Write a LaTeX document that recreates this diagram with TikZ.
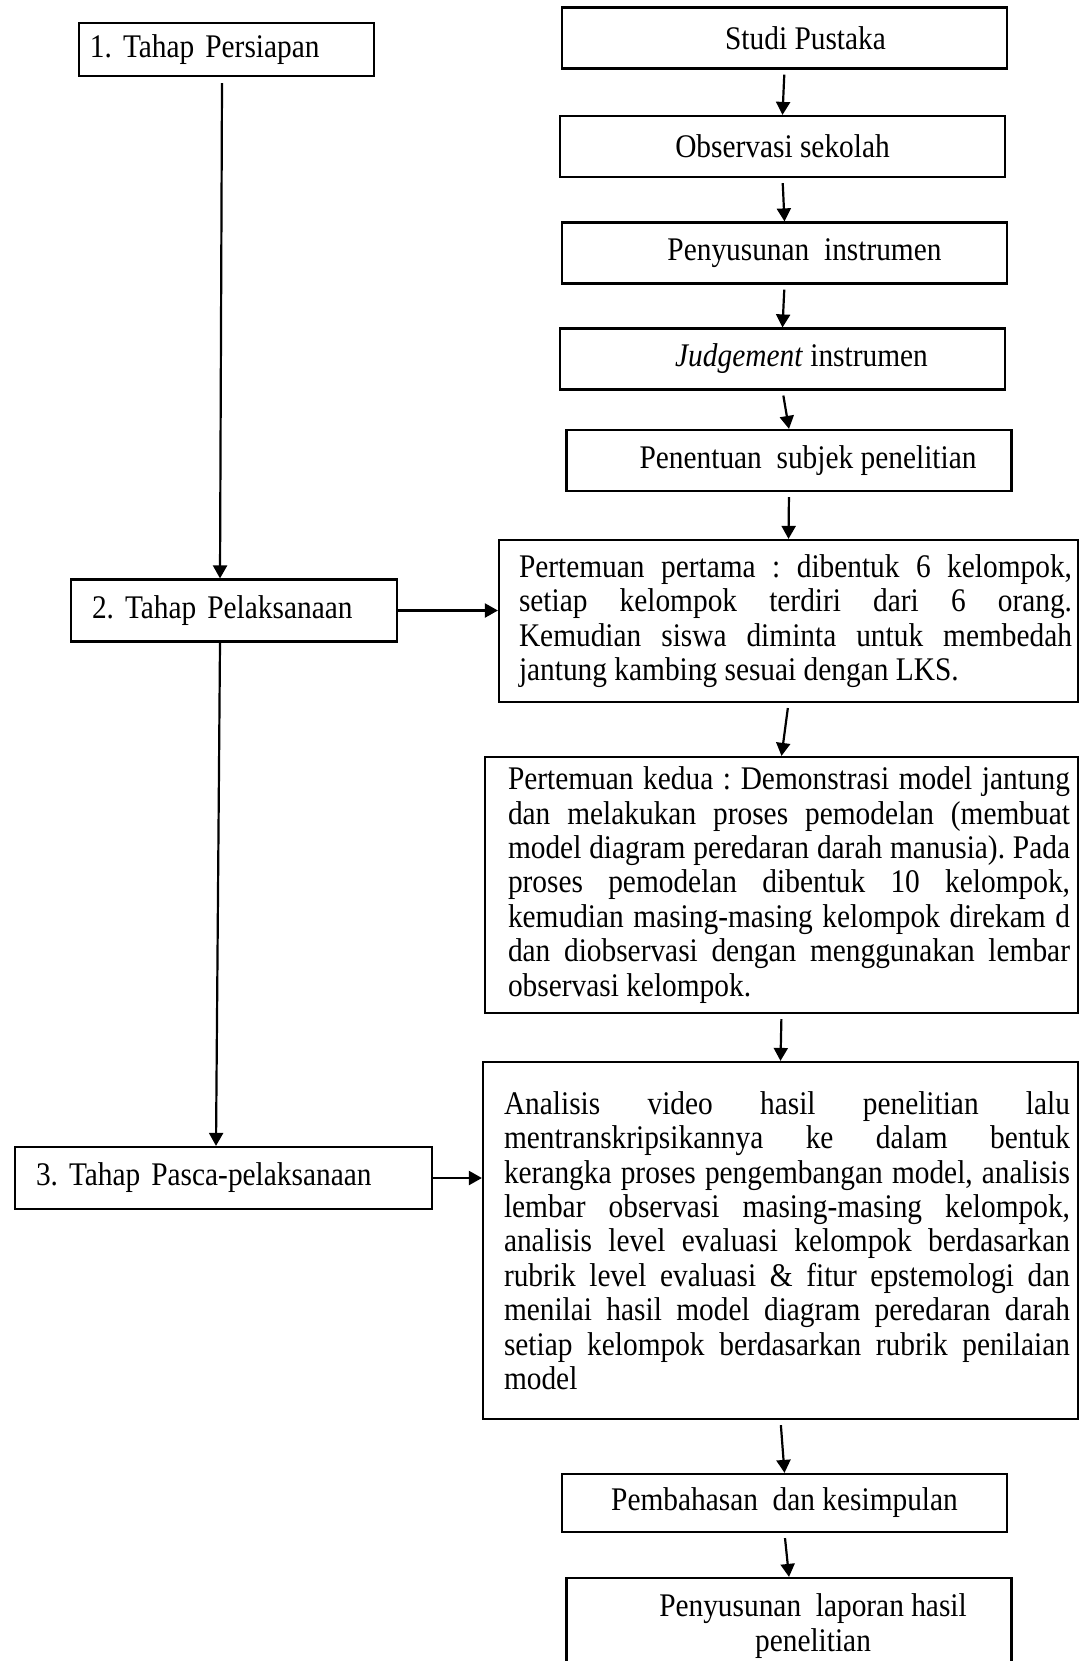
\documentclass[tikz,border=0pt]{standalone}
\usepackage{fontspec}
\setmainfont{Liberation Serif}[FakeStretch=0.89]
\usetikzlibrary{arrows.meta,positioning}

\begin{document}
\frenchspacing
\begin{tikzpicture}[x=0.5pt, y=-0.5pt,
    font=\fontsize{16.5}{17.2}\selectfont,
    execute at begin node={\tolerance=10000\hbadness=10000},
    phase/.style={draw, line width=1.1pt, align=left, minimum height=31pt, inner xsep=10.5pt},
    stepbox/.style={draw, line width=1.1pt, minimum width=222.5pt, minimum height=30.5pt, inner sep=0pt},
    textbox/.style={draw, line width=1.1pt, inner xsep=4pt},
    arr/.style={-{Triangle[length=6.5pt,width=7pt]}, line width=1.1pt}
  ]
    \useasboundingbox (0,0) rectangle (1078,1661);

    % Tahap penelitian
    \node[phase, text width=136.5pt, inner xsep=5.5pt, minimum height=26.5pt] (tahap1) at (226.5,49.5) {1. Tahap Persiapan};
    \node[phase, text width=142pt] (tahap2) at (234,610.5) {2. Tahap Pelaksanaan};
    \node[phase, text width=187.5pt] (tahap3) at (223.5,1178) {3. Tahap Pasca-pelaksanaan};

    % Langkah persiapan
    \node[stepbox] (studi) at (784.5,38) {\hspace*{21pt}Studi Pustaka};
    \node[stepbox] (observasi) at (782.5,146.5) {Observasi sekolah};
    \node[stepbox] (instrumen) at (784.5,253) {\hspace*{20pt}Penyusunan\ \ instrumen};
    \node[stepbox] (judgement) at (782.5,359) {\hspace*{19pt}\textit{Judgement} instrumen};
    \node[stepbox] (subjek) at (789,460.5) {\hspace*{19pt}Penentuan\ \ subjek penelitian};

    % Pelaksanaan dan pasca
    \node[textbox, inner xsep=3pt, minimum height=81pt] (temu1) at (788.5,621) {\hspace*{7pt}\parbox{276.5pt}{Pertemuan pertama : dibentuk 6 kelompok,\linebreak setiap kelompok terdiri dari 6 orang.\linebreak Kemudian siswa diminta untuk membedah\linebreak jantung kambing sesuai dengan LKS.}};
    \node[textbox, minimum height=128pt] (temu2) at (781.5,885) {\hspace*{7.5pt}\parbox{281pt}{Pertemuan kedua : Demonstrasi model jantung\linebreak dan melakukan proses pemodelan (membuat\linebreak model diagram peredaran darah manusia). Pada\linebreak proses pemodelan dibentuk 10 kelompok,\linebreak kemudian masing-masing kelompok direkam d\linebreak dan diobservasi dengan menggunakan lembar\linebreak observasi kelompok.}};
    \node[textbox, minimum height=178.5pt] (analisis) at (780.5,1240.5) {\hspace*{6.5pt}\parbox{283pt}{Analisis video hasil penelitian lalu\linebreak mentranskripsikannya ke dalam bentuk\linebreak kerangka proses pengembangan model, analisis\linebreak lembar observasi masing-masing kelompok,\linebreak analisis level evaluasi kelompok berdasarkan\linebreak rubrik level evaluasi \& fitur epstemologi dan\linebreak menilai hasil model diagram peredaran darah\linebreak setiap kelompok berdasarkan rubrik penilaian\linebreak model}};
    \node[stepbox, minimum height=29pt] (bahas) at (784.5,1503) {Pembahasan\ \ dan kesimpulan};
    \node[stepbox, align=center, minimum height=48pt] (laporan) at (789,1626) {\hspace*{24pt}Penyusunan\ \ laporan hasil\\\hspace*{24pt}penelitian};

    % Panah kiri
    \draw[arr] ([xshift=-2.25pt,yshift=-3pt]tahap1.south) -- ([xshift=-7pt]tahap2.north);
    \draw[arr] ([xshift=-7pt]tahap2.south) -- ([xshift=-3.75pt]tahap3.north);
    \draw[arr] (tahap2.east) -- (tahap2.east -| temu1.west);
    \draw[arr] (tahap3.east) -- (tahap3.east -| analisis.west);

    % Panah kanan
    \draw[arr, shorten <=2.5pt] (studi.south) -- (observasi.north);
    \draw[arr, shorten <=2.5pt] (observasi.south) -- (instrumen.north);
    \draw[arr, shorten <=2.5pt] (instrumen.south) -- (judgement.north);
    \draw[arr, shorten <=2.5pt] (judgement.south) -- (subjek.north);
    \draw[arr, shorten <=2.5pt] (subjek.south) -- (temu1.north);
    \draw[arr, shorten <=2.5pt] (temu1.south) -- (temu2.north);
    \draw[arr, shorten <=2.5pt] (temu2.south) -- (analisis.north);
    \draw[arr, shorten <=2.5pt] (analisis.south) -- (bahas.north);
    \draw[arr, shorten <=2.5pt] (bahas.south) -- (laporan.north);
\end{tikzpicture}
\end{document}
